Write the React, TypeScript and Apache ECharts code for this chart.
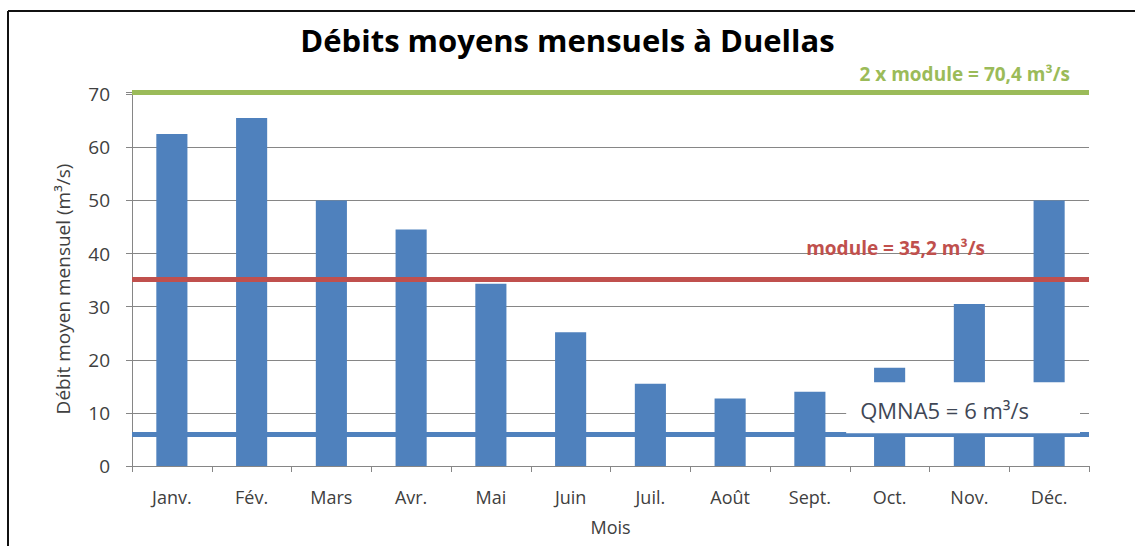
import React, { useEffect, useRef } from "react";
import * as echarts from "echarts";

const months = ["Janv.", "Fév.", "Mars", "Avr.", "Mai", "Juin", "Juil.", "Août", "Sept.", "Oct.", "Nov.", "Déc."];
const debits = [62.5, 65.5, 50, 44.5, 34.3, 25.2, 15.5, 12.7, 14, 18.5, 30.5, 50];
const yTicks = { min: 0, interval: 10 };
const doubleModule = 70.4;
const moduleValue = 35.2;
const qmna5 = 6;

const FONT = "'Open Sans', Lato, sans-serif";

export default function App() {
  const ref = useRef<HTMLDivElement>(null);
  useEffect(() => {
    if (!ref.current) return;
    const chart = echarts.init(ref.current, undefined, { renderer: "svg" });
    chart.setOption({
      animation: false,
      backgroundColor: "#ffffff",
      textStyle: { fontFamily: FONT },
      title: {
        text: "Débits moyens mensuels à Duellas",
        left: "center",
        top: 19,
        textStyle: { fontSize: 31, fontWeight: "bold", color: "#000", fontFamily: FONT },
      },
      graphic: [
        { type: "line", shape: { x1: 8, y1: 11, x2: 1135, y2: 11 }, style: { stroke: "#111", lineWidth: 2 }, z: 100 },
        { type: "line", shape: { x1: 8, y1: 11, x2: 8, y2: 546 }, style: { stroke: "#111", lineWidth: 2 }, z: 100 },
      ],
      grid: { left: 132, right: 46, top: 92, bottom: 80, containLabel: false },
      xAxis: {
        type: "category",
        data: months,
        name: "Mois",
        nameLocation: "middle",
        nameGap: 52,
        nameTextStyle: { fontSize: 18, color: "#404040", fontFamily: FONT },
        axisLine: { lineStyle: { color: "#868686", width: 1 } },
        axisTick: { show: true, length: 6, lineStyle: { color: "#868686" } },
        axisLabel: { fontSize: 18, color: "#404040", margin: 22, fontFamily: FONT },
      },
      yAxis: {
        type: "value",
        min: yTicks.min,
        max: doubleModule,
        interval: yTicks.interval,
        name: "Débit moyen mensuel (m³/s)",
        nameLocation: "middle",
        nameRotate: 90,
        nameGap: 60,
        nameTextStyle: { fontSize: 19, color: "#404040", fontFamily: FONT, padding: [0, 20, 0, 0] },
        axisLine: { show: true, lineStyle: { color: "#868686", width: 1 } },
        axisTick: { show: true, length: 6, lineStyle: { color: "#868686" } },
        axisLabel: {
          fontSize: 19,
          color: "#404040",
          margin: 22,
          fontFamily: FONT,
          formatter: (v: number) => (v % yTicks.interval === 0 ? String(v) : ""),
        },
        splitLine: { lineStyle: { color: "#868686", width: 1 } },
      },
      series: [
        {
          type: "bar",
          data: debits,
          barWidth: "39%",
          itemStyle: { color: "#4F81BD" },
          markLine: {
            symbol: "none",
            silent: true,
            animation: false,
            data: [
              {
                yAxis: doubleModule,
                lineStyle: { color: "#9BBB59", width: 5, type: "solid" },
                label: {
                  show: true,
                  position: "insideEndTop",
                  formatter: "2 x module = 70,4 m³/s",
                  color: "#9BBB59",
                  fontSize: 19,
                  fontWeight: "bold",
                  fontFamily: FONT,
                  distance: 9,
                  offset: [-10, 0],
                },
              },
              {
                yAxis: moduleValue,
                lineStyle: { color: "#C0504D", width: 5, type: "solid" },
                label: {
                  show: true,
                  position: "insideEndTop",
                  formatter: "module = 35,2 m³/s",
                  color: "#C0504D",
                  fontSize: 19,
                  fontWeight: "bold",
                  fontFamily: FONT,
                  distance: 22,
                  offset: [-82, 0],
                },
              },
              {
                yAxis: qmna5,
                lineStyle: { color: "#4F81BD", width: 5, type: "solid" },
                label: {
                  show: true,
                  position: "insideEndTop",
                  formatter: "QMNA5 = 6 m³/s",
                  color: "#3F4756",
                  fontSize: 22,
                  fontFamily: FONT,
                  backgroundColor: "#ffffff",
                  padding: [17, 51, 12, 14],
                  distance: 1,
                  offset: [-8, 0],
                },
              },
            ],
          },
        },
      ],
    });
    return () => chart.dispose();
  }, []);
  return (
    <div
      ref={ref}
      style={{ position: "fixed", left: 0, top: 0, width: 1135, height: 546, background: "#fff" }}
    />
  );
}
